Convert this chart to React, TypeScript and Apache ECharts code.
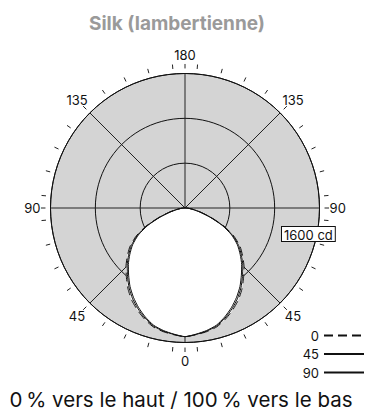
import React, { useEffect, useRef } from 'react';
import * as echarts from 'echarts';

// Polar angles (deg from nadir), one half of the symmetric curve
const ANGLES = [0, 5, 10, 15, 20, 25, 30, 35, 40, 45, 50, 55, 60, 65, 70, 75, 80, 85, 90];
// Luminous intensity (cd) per C-plane
const C0 = [2296, 2270, 2240, 2195, 2110, 2010, 1900, 1770, 1625, 1490, 1345, 1200, 1010, 770, 500, 290, 150, 65, 0];
const C45 = [2296, 2265, 2230, 2180, 2090, 1985, 1870, 1740, 1595, 1460, 1315, 1170, 985, 750, 485, 280, 145, 62, 0];
const C90 = [2296, 2260, 2220, 2165, 2070, 1960, 1840, 1710, 1565, 1430, 1285, 1140, 960, 730, 470, 270, 140, 60, 0];
const SERIES_NAMES = ['0', '45', '90'];

const R_MAX = 2400;
const R_STEP = 800;
const LABELED_RING = 1600;
const UNIT = 'cd';
const AXIS_LABEL_DEG = [0, 45, 90, 135, 180, 225, 270, 315];
const TICK_DEG = [0, 5, 15, 25, 35, 45, 55, 65, 75, 85, 90, 95, 105, 115, 125, 135, 145, 155, 165, 175, 180];
const TICK_IN = 2490;
const TICK_OUT = 2570;
const LABEL_R = 2725;

const TITLE = 'Silk (lambertienne)';
const FOOTER = '0\u202F% vers le haut / 100\u202F% vers le bas';

const FONT = 'Inter, "Noto Sans", sans-serif';

function lobe(vals: number[]) {
  const out: number[][] = [];
  for (let i = ANGLES.length - 1; i >= 0; i--) out.push([vals[i], 360 - ANGLES[i]]);
  for (let i = 1; i < ANGLES.length; i++) out.push([vals[i], ANGLES[i]]);
  return out;
}

const ALL_TICKS = [...TICK_DEG, ...TICK_DEG.filter((d) => d > 0 && d < 180).map((d) => 360 - d)];

export default function App() {
  const ref = useRef<HTMLDivElement>(null);
  useEffect(() => {
    if (!ref.current) return;
    const chart = echarts.init(ref.current, null, { renderer: 'svg' });
    const lineCol = '#111';
    const polarBox = { center: [185, 208], radius: 134.5 };
    const angleBase = {
      type: 'value',
      min: 0,
      max: 360,
      interval: 45,
      startAngle: 270,
      clockwise: true,
      axisTick: { show: false },
      axisLabel: { show: false },
    };
    const radiusBase = {
      type: 'value',
      min: 0,
      max: R_MAX,
      interval: R_STEP,
      axisLine: { show: false },
      axisTick: { show: false },
      axisLabel: { show: false },
    };
    chart.setOption({
      animation: false,
      backgroundColor: '#fff',
      title: {
        text: TITLE,
        left: 84,
        top: 9,
        textStyle: { color: '#9a9a9a', fontSize: 19, fontWeight: 'bold', fontFamily: FONT },
      },
      polar: [polarBox, polarBox],
      angleAxis: [
        {
          ...angleBase,
          polarIndex: 0,
          z: 0,
          axisLine: { show: false },
          splitLine: { show: false },
        },
        {
          ...angleBase,
          polarIndex: 1,
          z: 1,
          axisLine: { show: true, lineStyle: { color: lineCol, width: 1 } },
          splitLine: { show: true, lineStyle: { color: '#222', width: 1 } },
        },
      ],
      radiusAxis: [
        {
          ...radiusBase,
          polarIndex: 0,
          z: 0,
          splitLine: { show: false },
          splitArea: { show: true, areaStyle: { color: ['#d4d4d4'] } },
        },
        {
          ...radiusBase,
          polarIndex: 1,
          z: 1,
          splitLine: { show: true, lineStyle: { color: lineCol, width: 1 } },
          splitArea: { show: false },
        },
      ],
      legend: {
        data: SERIES_NAMES,
        orient: 'vertical',
        right: 0,
        top: 329,
        padding: 0,
        align: 'right',
        itemWidth: 40,
        itemHeight: 14,
        itemGap: 5.5,
        itemStyle: { opacity: 0 },
        textStyle: { fontSize: 13, fontFamily: FONT, color: lineCol },
      },
      graphic: [
        {
          type: 'text',
          x: 282,
          y: 227,
          z: 100,
          style: {
            text: `${LABELED_RING} ${UNIT}`,
            fill: lineCol,
            fontSize: 13,
            fontFamily: FONT,
            backgroundColor: '#fff',
            borderColor: lineCol,
            borderWidth: 1,
            padding: [1, 2, 0, 2],
          },
        },
        {
          type: 'text',
          x: 181,
          y: 399,
          z: 100,
          style: {
            text: FOOTER,
            fill: lineCol,
            fontSize: 20.5,
            fontFamily: FONT,
            align: 'center',
            verticalAlign: 'middle',
          },
        },
      ],
      series: [
        {
          name: SERIES_NAMES[0],
          type: 'line',
          coordinateSystem: 'polar',
          polarIndex: 1,
          data: lobe(C0),
          symbol: 'none',
          smooth: 0.2,
          lineStyle: { color: lineCol, width: 1, type: [9, 5] },
          areaStyle: { color: '#fff', opacity: 1 },
          z: 3,
        },
        {
          name: SERIES_NAMES[1],
          type: 'line',
          coordinateSystem: 'polar',
          polarIndex: 1,
          data: lobe(C45),
          symbol: 'none',
          smooth: 0.2,
          lineStyle: { color: lineCol, width: 1 },
          z: 4,
        },
        {
          name: SERIES_NAMES[2],
          type: 'line',
          coordinateSystem: 'polar',
          polarIndex: 1,
          data: lobe(C90),
          symbol: 'none',
          smooth: 0.2,
          lineStyle: { color: lineCol, width: 1 },
          z: 5,
        },
        {
          name: 'ticks',
          type: 'custom',
          coordinateSystem: 'polar',
          polarIndex: 1,
          silent: true,
          data: ALL_TICKS.map((a) => [TICK_IN, a]),
          renderItem: (_p: any, api: any) => {
            const a = api.value(1);
            const p1 = api.coord([TICK_IN, a]);
            const p2 = api.coord([TICK_OUT, a]);
            return {
              type: 'line',
              shape: { x1: p1[0], y1: p1[1], x2: p2[0], y2: p2[1] },
              style: { stroke: '#222', lineWidth: 1 },
            };
          },
        },
        {
          name: 'labels',
          type: 'custom',
          coordinateSystem: 'polar',
          polarIndex: 1,
          silent: true,
          data: AXIS_LABEL_DEG.map((a) => [LABEL_R, a]),
          renderItem: (_p: any, api: any) => {
            const a = api.value(1);
            const p = api.coord([LABEL_R, a]);
            return {
              type: 'text',
              x: p[0],
              y: p[1],
              style: {
                text: String(a <= 180 ? a : 360 - a),
                fill: lineCol,
                fontSize: 13,
                fontFamily: FONT,
                align: 'center',
                verticalAlign: 'middle',
              },
            };
          },
        },
      ],
    });
    return () => chart.dispose();
  }, []);
  return <div ref={ref} style={{ position: 'fixed', left: 0, top: 0, width: 365, height: 412 }} />;
}
